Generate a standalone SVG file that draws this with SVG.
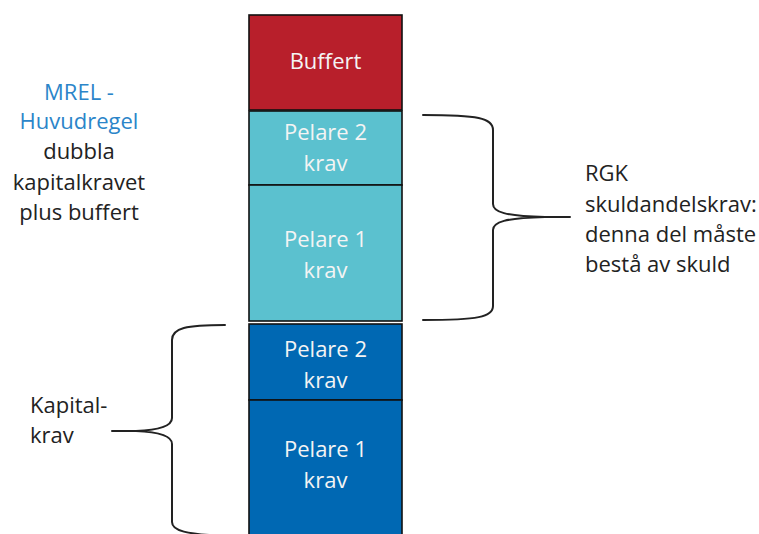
<svg xmlns="http://www.w3.org/2000/svg" width="759" height="534" viewBox="0 0 759 534">
<style>
  .box { stroke: #111; stroke-width: 1.6; }
  .red { fill: #B81F2B; }
  .teal { fill: #5BC1CF; }
  .blue { fill: #0068B3; }
  .in { font-family: "Open Sans", "Liberation Sans", sans-serif; font-size: 22px; fill: #F4F4F4; text-anchor: middle; }
  .lbl { font-family: "Open Sans", "Liberation Sans", sans-serif; font-size: 22px; fill: #222; }
  .mrel { fill: #2B85C9; }
  .brace { fill: none; stroke: #222; stroke-width: 2; stroke-linecap: round; }
</style>
<rect x="0" y="0" width="759" height="534" fill="#FFFFFF"/>
<g id="buffert">
  <rect class="box red" x="249" y="15" width="153" height="95"/>
  <text class="in" x="325.5" y="69">Buffert</text>
</g>
<g id="pelare2-teal">
  <rect class="box teal" x="249" y="111" width="153" height="74"/>
  <text class="in" x="325.5" y="140">Pelare 2</text>
  <text class="in" x="325.5" y="171">krav</text>
</g>
<g id="pelare1-teal">
  <rect class="box teal" x="249" y="185" width="153" height="136"/>
  <text class="in" x="325.5" y="247">Pelare 1</text>
  <text class="in" x="325.5" y="278">krav</text>
</g>
<g id="pelare2-blue">
  <rect class="box blue" x="249" y="324" width="153" height="76"/>
  <text class="in" x="325.5" y="357">Pelare 2</text>
  <text class="in" x="325.5" y="388">krav</text>
</g>
<g id="pelare1-blue">
  <rect class="box blue" x="249" y="400" width="153" height="140"/>
  <text class="in" x="325.5" y="457">Pelare 1</text>
  <text class="in" x="325.5" y="488">krav</text>
</g>
<g id="connectors">
  <path class="brace" d="M423,115 C478,115 493,118 493,130 L493,204 C493,212 505,216 545,217 L570,217 M545,217 C505,218 493,222 493,230 L493,306 C493,317 478,320 423,320"/>
  <path class="brace" d="M225,325 C186,325 172,328 172,340 L172,418 C172,426 160,430 136,431 L112,431 M136,431 C160,432 172,436 172,444 L172,522 C172,531 186,534 225,536"/>
</g>
<g id="mrel-label">
  <text class="lbl mrel" x="79" y="100" text-anchor="middle">MREL -</text>
  <text class="lbl mrel" x="79" y="129" text-anchor="middle">Huvudregel</text>
  <text class="lbl" x="79" y="159" text-anchor="middle">dubbla</text>
  <text class="lbl" x="79" y="190" text-anchor="middle">kapitalkravet</text>
  <text class="lbl" x="79" y="220" text-anchor="middle">plus buffert</text>
</g>
<g id="rgk-label">
  <text class="lbl" x="585" y="181">RGK</text>
  <text class="lbl" x="585" y="212">skuldandelskrav:</text>
  <text class="lbl" x="585" y="242">denna del måste</text>
  <text class="lbl" x="585" y="272">bestå av skuld</text>
</g>
<g id="kapital-label">
  <text class="lbl" x="30" y="413">Kapital-</text>
  <text class="lbl" x="30" y="443">krav</text>
</g>
</svg>
